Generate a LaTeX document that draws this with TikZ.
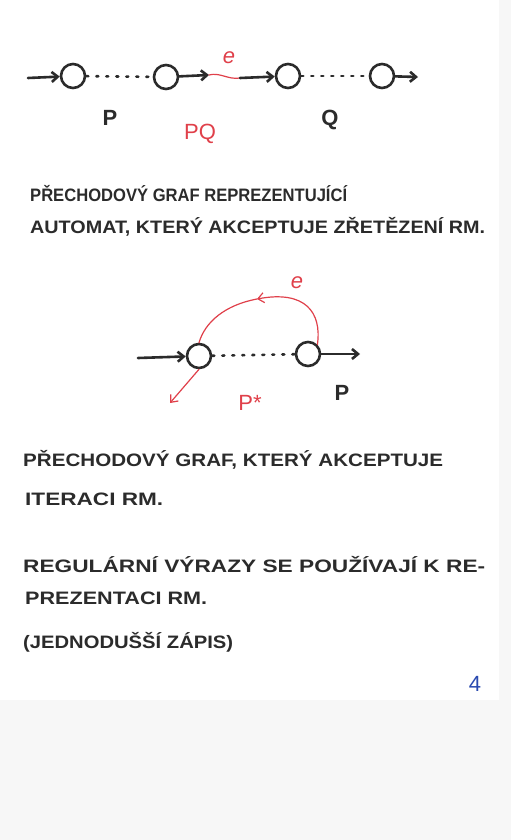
\documentclass[tikz,border=0pt]{standalone}
\usepackage{fontspec}
\setmainfont{Liberation Sans}
\usetikzlibrary{arrows.meta}

\definecolor{ink}{HTML}{2B2B2B}
\definecolor{redink}{HTML}{E0404A}
\definecolor{blueink}{HTML}{2A4AB0}

% one handwritten line, stretched to the width it has on the page
\newcommand\handline[2]{\resizebox{#1}{\height}{#2}}

\tikzset{
  state/.style={circle, draw=ink, line width=2.6pt, minimum size=24pt, inner sep=0pt},
  trans/.style={draw=ink, line width=2.6pt, ->},
  dots/.style={draw=ink, line width=2.6pt, dash pattern=on 2pt off 8pt},
  redline/.style={draw=redink, line width=1.2pt},
  note/.style={anchor=base west, inner sep=0pt, text=ink, font=\fontsize{18}{20}\selectfont\bfseries},
  lab/.style={inner sep=0pt, font=\fontsize{22}{24}\selectfont}
}

\begin{document}
\begin{tikzpicture}[x=1pt, y=-1pt, line cap=round, line join=round, >={Straight Barb[length=6pt, width=10pt]}]

    % Paper
    \fill[black!3] (0,0) rectangle (511,840);
    \fill[white] (0,0) rectangle (499,700);
    \useasboundingbox (0,0) rectangle (511,840);

    % Concatenation
    \coordinate (in1) at (28,78);
    \node[state] (p1) at (73,76) {};
    \node[state] (p2) at (166,77) {};
    \coordinate (ea) at (209,75);
    \coordinate (eb) at (240,78);
    \node[state] (q1) at (288,76) {};
    \node[state] (q2) at (382,76) {};
    \coordinate (out1) at (418,77);

    \draw[trans] (in1) -- (p1);
    \draw[dots] (p1) -- (p2);
    \draw[trans] (p2) -- (ea);
    \draw[redline] (ea) .. controls (220,72) and (228,80) .. (eb);
    \draw[trans] (eb) -- (q1);
    \draw[dots] (q1) -- (q2);
    \draw[trans] (q2) -- (out1);

    \node[lab, text=redink] (e1) at (229,58) {\itshape e};
    \node[lab, text=ink, font=\fontsize{22}{24}\selectfont\bfseries] (lp) at (110,118) {P};
    \node[lab, text=ink, font=\fontsize{22}{24}\selectfont\bfseries] (lq) at (330,120) {Q};
    \node[lab, text=redink] (lpq) at (200,134) {PQ};

    \node[note] (t1) at (30,201) {\handline{317pt}{PŘECHODOVÝ GRAF REPREZENTUJÍCÍ}};
    \node[note] (t2) at (30,233) {\handline{455pt}{AUTOMAT, KTERÝ AKCEPTUJE ZŘETĚZENÍ RM.}};

    % Iteration
    \coordinate (in2) at (138,358);
    \node[state] (r1) at (199,356) {};
    \node[state] (r2) at (308,354) {};
    \coordinate (out2) at (360,354);
    \coordinate (loop) at (257,299);
    \coordinate (back) at (170,403);

    \draw[trans] (in2) -- (r1);
    \draw[dots] (r1) -- (r2);
    \draw[trans] (r2) -- (out2);
    \draw[redline, ->] (r2.north east) .. controls (322,312) and (305,290) .. (loop);
    \draw[redline] (loop) .. controls (225,305) and (205,322) .. (r1.north);
    \draw[redline, ->] (r1.south) -- (back);

    \node[lab, text=redink] (e2) at (297,283) {\itshape e};
    \node[lab, text=ink, font=\fontsize{22}{24}\selectfont\bfseries] (lp2) at (342,393) {P};
    \node[lab, text=redink] (lps) at (250,403) {P*};

    \node[note] (t3) at (23,466) {\handline{420pt}{PŘECHODOVÝ GRAF, KTERÝ AKCEPTUJE}};
    \node[note] (t4) at (25,505) {\handline{138pt}{ITERACI RM.}};

    \node[note] (t5) at (23,572) {\handline{462pt}{REGULÁRNÍ VÝRAZY SE POUŽÍVAJÍ K RE-}};
    \node[note] (t6) at (25,604) {\handline{182pt}{PREZENTACI RM.}};
    \node[note] (t7) at (23,648) {\handline{210pt}{(JEDNODUŠŠÍ ZÁPIS)}};

    % Page number
    \node[lab, text=blueink, font=\fontsize{22}{24}\selectfont] (pg) at (475,684) {4};

\end{tikzpicture}
\end{document}
